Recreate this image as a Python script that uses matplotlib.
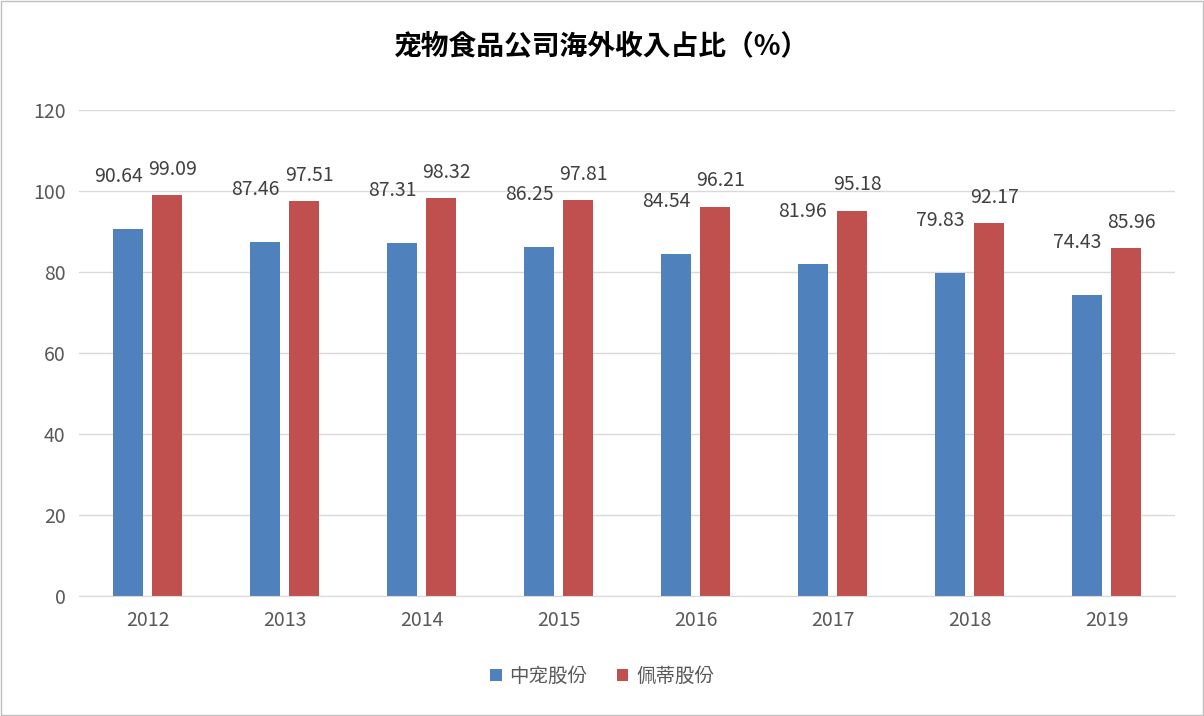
import numpy as np
import matplotlib.pyplot as plt

plt.rcParams['font.family'] = ['Noto Sans CJK JP']

years = ['2012', '2013', '2014', '2015', '2016', '2017', '2018', '2019']
zhongchong = [90.64, 87.46, 87.31, 86.25, 84.54, 81.96, 79.83, 74.43]
peidi = [99.09, 97.51, 98.32, 97.81, 96.21, 95.18, 92.17, 85.96]

blue = '#4f81bd'
red = '#c0504d'

fig = plt.figure(figsize=(12.04, 7.16), dpi=100)
ax = fig.add_axes([0.066, 0.168, 0.91, 0.678])
x = np.arange(len(years))

b1 = ax.bar(x - 0.146, zhongchong, 0.22, color=blue, label='中宠股份')
b2 = ax.bar(x + 0.14, peidi, 0.22, color=red, label='佩蒂股份')

for xi, v in zip(x, zhongchong):
    ax.annotate(f'{v:.2f}', (xi - 0.146, v), xytext=(-7, 30), textcoords='offset points',
                ha='center', va='bottom', fontsize=14, color='#404040')
for xi, v in zip(x, peidi):
    ax.annotate(f'{v:.2f}', (xi + 0.14, v), xytext=(4, 11), textcoords='offset points',
                ha='center', va='bottom', fontsize=14, color='#404040')

ax.set_ylim(0, 120)
ax.set_yticks(range(0, 121, 20))
ax.set_xlim(-0.5, len(years) - 0.5)
ax.set_xticks(x)
ax.set_xticklabels(years)
ax.tick_params(axis='both', length=0, labelsize=14, labelcolor='#595959', pad=10)
ax.grid(axis='y', color='#d9d9d9', linewidth=1)
ax.set_axisbelow(True)
for s in ['top', 'right', 'left']:
    ax.spines[s].set_visible(False)
ax.spines['bottom'].set_color('#d9d9d9')

fig.suptitle('宠物食品公司海外收入占比（%）', y=0.955, fontsize=20, fontweight='bold')
fig.legend(handles=[b1, b2], loc='center', bbox_to_anchor=(0.5, 0.055), ncol=2,
           frameon=False, fontsize=14, handlelength=0.6, handleheight=0.6,
           columnspacing=1.5, handletextpad=0.4, labelcolor='#595959')

fig.patches.append(plt.Rectangle((0.001, 0.001), 0.998, 0.998, transform=fig.transFigure,
                                 fill=False, edgecolor='#bfbfbf', linewidth=1))
fig.savefig('out.png', dpi=100)
